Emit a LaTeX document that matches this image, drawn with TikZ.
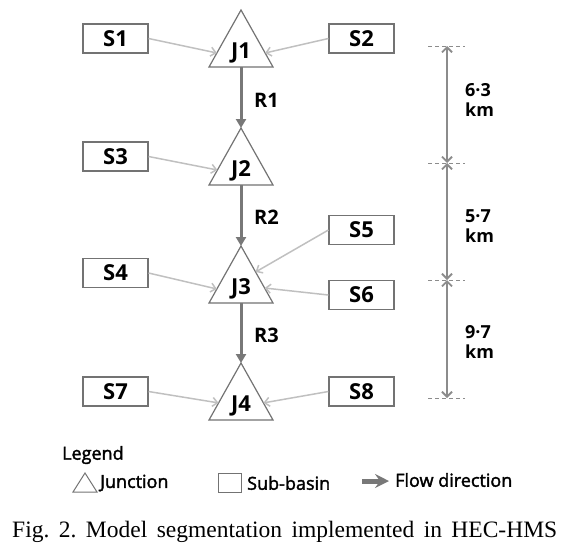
\documentclass[tikz,border=0pt]{standalone}
\usepackage{fontspec}
\setmainfont{Open Sans}
\newfontfamily\legfont{Open Sans}[FakeBold=2]
\newfontfamily\capfont{Liberation Serif}
\usetikzlibrary{arrows.meta,calc}
\definecolor{boxgray}{RGB}{115,115,115}
\definecolor{thingray}{RGB}{192,192,192}
\definecolor{rivergray}{RGB}{120,120,120}
\definecolor{dimgray}{RGB}{140,140,140}
\begin{document}
\begin{tikzpicture}[x=1pt,y=-1pt,
  sbox/.style={draw=boxgray, line width=1.2pt, minimum width=65pt, minimum height=29pt, inner sep=0pt, font=\fontsize{22}{22}\selectfont\bfseries},
  jlab/.style={inner sep=0pt, font=\fontsize{22}{22}\selectfont\bfseries},
  tri/.style={draw=boxgray, line width=1.2pt, line join=miter, fill=white},
  inflow/.style={draw=thingray, line width=1.5pt, -{Straight Barb[length=5pt,width=9pt]}},
  reach/.style={draw=rivergray, line width=3pt, -{Triangle[length=9pt,width=10pt]}},
  rlab/.style={anchor=west, inner sep=0pt, font=\fontsize{20}{22}\selectfont\bfseries},
  tick/.style={draw=dimgray, line width=1pt, dash pattern=on 4pt off 3pt},
  dimarrow/.style={draw=dimgray, line width=1.8pt, {Straight Barb[length=5pt,width=10pt]}-{Straight Barb[length=5pt,width=10pt]}},
  dimlab/.style={anchor=west, inner sep=0pt, align=left, font=\fontsize{18}{20}\selectfont\bfseries},
  leglab/.style={anchor=west, inner sep=0pt, font=\legfont\fontsize{18}{20}\selectfont},
]
\useasboundingbox (0,0) rectangle (585,547);

% junctions
\foreach \n/\a in {1/10,2/128,3/246,4/363}{
  \coordinate (J\n-a) at (241,\a);
  \coordinate (J\n-l) at (209,\a+57);
  \coordinate (J\n-r) at (273,\a+57);
  \coordinate (J\n-b) at (241,\a+57);
  \draw[tri] (J\n-a) -- (J\n-r) -- (J\n-l) -- cycle;
  \node[jlab] (J\n) at (241,\a+43) {J\n};
}

% sub-basins
\node[sbox] (S1) at (115.5,38.5) {S1};
\node[sbox] (S2) at (361.5,38.5) {S2};
\node[sbox] (S3) at (115.5,156.5) {S3};
\node[sbox] (S4) at (115.5,273) {S4};
\node[sbox] (S5) at (361.5,230) {S5};
\node[sbox] (S6) at (361.5,295) {S6};
\node[sbox] (S7) at (115.5,391.5) {S7};
\node[sbox] (S8) at (361.5,391.5) {S8};

% inflow arrows
\draw[inflow] (S1.east) -- ($(J1-a)!0.754!(J1-l)$);
\draw[inflow] (S2.west) -- ($(J1-a)!0.754!(J1-r)$);
\draw[inflow] (S3.east) -- ($(J2-a)!0.737!(J2-l)$);
\draw[inflow] (S4.east) -- ($(J3-a)!0.754!(J3-l)$);
\draw[inflow] (S5.west) -- ($(J3-a)!0.456!(J3-r)$);
\draw[inflow] (S6.west) -- ($(J3-a)!0.737!(J3-r)$);
\draw[inflow] (S7.east) -- ($(J4-a)!0.70!(J4-l)$);
\draw[inflow] (S8.west) -- ($(J4-a)!0.70!(J4-r)$);

% reaches
\draw[reach] (J1-b) -- (J2-a);
\draw[reach] (J2-b) -- (J3-a);
\draw[reach] (J3-b) -- (J4-a);
\node[rlab] (R1) at (254,100) {R1};
\node[rlab] (R2) at (254,217) {R2};
\node[rlab] (R3) at (254,335) {R3};

% distance scale
\foreach \i/\y in {1/46,2/163,3/280,4/398}{
  \coordinate (D\i) at (447,\y);
  \draw[tick] (428,\y) -- (465,\y);
}
\draw[dimarrow] (D1) -- (D2);
\draw[dimarrow] (D2) -- (D3);
\draw[dimarrow] (D3) -- (D4);
\node[dimlab] (L1) at (465,100) {6·3\\km};
\node[dimlab] (L2) at (465,226) {5·7\\km};
\node[dimlab] (L3) at (465,342) {9·7\\km};

% legend
\node[leglab] (lg) at (62,455) {Legend};
\draw[draw=boxgray, line width=1pt, line join=miter] (73,492) -- (97,492) -- (85,473) -- cycle;
\node[leglab] (lj) at (100,483) {Junction};
\draw[draw=boxgray, line width=1pt] (218,473) rectangle (241,492);
\node[leglab] (ls) at (247,483) {Sub-basin};
\coordinate (fa) at (362,481);
\coordinate (fb) at (389,481);
\draw[draw=rivergray, line width=5pt, -{Stealth[length=14pt,width=14pt,inset=5pt]}] (fa) -- (fb);
\node[leglab] (lf) at (395,480) {Flow direction};

% caption
\node[anchor=base west, inner sep=0pt, font=\capfont\fontsize{23.5}{24}\selectfont] (cap) at (12,537) {\frenchspacing\makebox[545pt][s]{Fig. 2. Model segmentation implemented in HEC-HMS}};
\end{tikzpicture}
\end{document}
